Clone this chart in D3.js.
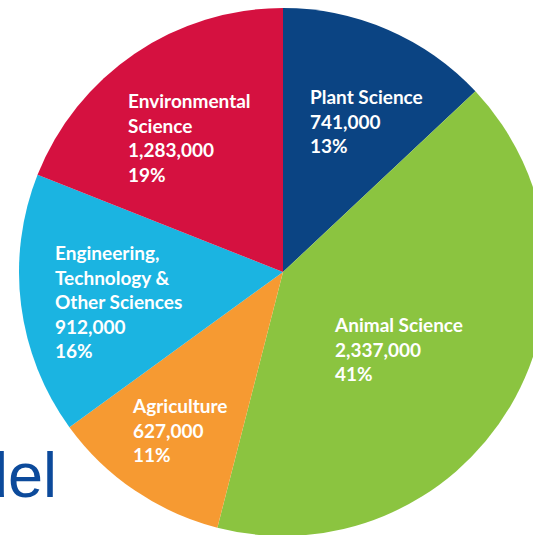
<!DOCTYPE html>
<html>
<head>
<meta charset="utf-8">
<script src="https://cdn.jsdelivr.net/npm/d3@7"></script>
<style>
  html, body { margin: 0; padding: 0; background: #ffffff; }
  svg { display: block; }
</style>
</head>
<body>
<svg width="533" height="535"></svg>
<script>
// 데이터
const categories = ['Plant Science', 'Animal Science', 'Agriculture', 'Engineering, Technology & Other Sciences', 'Environmental Science'];
const counts = ['741,000', '2,337,000', '627,000', '912,000', '1,283,000'];
const percents = [13, 41, 11, 16, 19];
// 라벨 줄바꿈
const labelLines = [
    ['Plant Science'],
    ['Animal Science'],
    ['Agriculture'],
    ['Engineering,', 'Technology &', 'Other Sciences'],
    ['Environmental', 'Science']
];

const colors = ['#0b4483', '#8bc440', '#f69a32', '#1bb4e1', '#d51140'];
// 라벨 위치 (중심 기준 왼쪽 x, 첫 줄 baseline y)
const labelOffset = [[27, -168], [52, 60], [-150, 141], [-228, -12], [-155, -164]];

const cx = 283, cy = 272, radius = 264, lineH = 24.5;

const svg = d3.select('svg');

// 뒤에 잘린 제목 글자
svg.append('text')
    .attr('x', 57)
    .attr('y', 497)
    .attr('text-anchor', 'end')
    .attr('font-family', 'Liberation Sans, Arial, sans-serif')
    .attr('font-size', 63)
    .attr('fill', '#0c4a9b')
    .text('del');

const pie = d3.pie().sort(null).value(d => d);
const arc = d3.arc().innerRadius(0).outerRadius(radius);
const arcs = pie(percents);

const g = svg.append('g').attr('transform', `translate(${cx},${cy})`);

g.selectAll('path')
    .data(arcs)
    .join('path')
    .attr('d', arc)
    .attr('fill', (d, i) => colors[i]);

const labels = g.selectAll('text')
    .data(arcs)
    .join('text')
    .attr('fill', '#ffffff')
    .attr('font-family', 'Lato, sans-serif')
    .attr('font-weight', 700)
    .attr('font-size', 19)
    .attr('transform', (d, i) => `translate(${labelOffset[i][0]},${labelOffset[i][1]})`);

labels.each(function (d, i) {
    const lines = labelLines[i].concat([counts[i], percents[i] + '%']);
    d3.select(this).selectAll('tspan')
        .data(lines)
        .join('tspan')
        .attr('x', 0)
        .attr('y', (t, j) => j * lineH)
        .text(t => t);
});
</script>
</body>
</html>
